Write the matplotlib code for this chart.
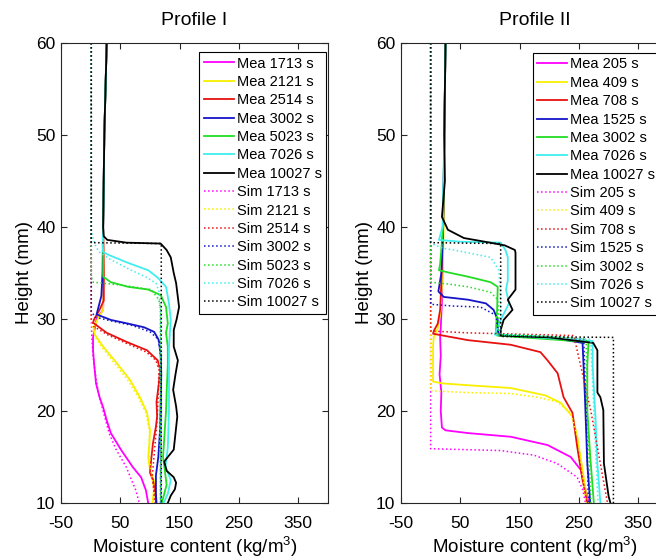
import matplotlib
matplotlib.use("Agg")
import matplotlib.pyplot as plt

plt.rcParams['font.family'] = ['Liberation Sans', 'DejaVu Sans']
plt.rcParams['mathtext.fontset'] = 'custom'
plt.rcParams['mathtext.rm'] = 'Liberation Sans'
plt.rcParams['axes.unicode_minus'] = False

# colours used for the 7 time steps (magenta, yellow, red, blue, green, cyan, black)
colors = ['#ff00ff', '#f8f000', '#e81010', '#1414c8', '#22dd22', '#40eeee', '#000000']

#Profile I data ----------------------------------------------------------
times1 = ['1713', '2121', '2514', '3002', '5023', '7026', '10027']

# measured, height (mm) / moisture (kg/m3)
m1_1713_h = [60, 50, 40, 35, 31, 30, 28, 26.6, 25, 23, 21.5, 20.4, 19, 17.6, 15.8, 13.9, 12.8, 11.4, 10]
m1_1713_w = [27, 23, 21, 22, 21, 10, 4, 4, 6, 9, 15, 21, 27, 34, 51, 71, 85, 93, 97]
m1_2121_h = [60, 50, 40, 35, 31, 30, 29, 28.3, 27, 25.2, 23.4, 21.5, 19.8, 17.9, 16.5, 15, 13.6, 12.2, 11, 10]
m1_2121_w = [27, 23, 21, 22, 21, 12, 5, 7, 21, 44, 66, 83, 95, 100, 99, 97, 100, 108, 106, 104]
m1_2514_h = [60, 50, 40, 35, 32, 31, 30, 29.6, 28.5, 27.5, 26.6, 25.5, 24.5, 23, 21, 19.4, 18.3, 16.5, 14.7, 13.3, 12.5, 11, 10]
m1_2514_w = [27, 23, 21, 22, 22, 15, 6, 4, 27, 61, 95, 113, 117, 115, 111, 112, 110, 105, 102, 100, 105, 109, 110]
m1_3002_h = [60, 50, 40, 35, 32.5, 31.5, 30.5, 29.9, 29.5, 29.1, 28.6, 27.7, 26, 24, 21, 18, 15, 13, 11, 10]
m1_3002_w = [27, 23, 21, 20, 18, 14, 10, 34, 63, 90, 107, 115, 118, 119, 118, 117, 114, 110, 110, 111]
m1_5023_h = [60, 50, 40, 36, 34.6, 34, 33.5, 33.2, 32.6, 31.3, 29.5, 28.5, 27, 25, 22, 20, 17, 15, 13, 12, 11, 10]
m1_5023_w = [27, 23, 21, 21, 21, 34, 63, 97, 118, 127, 130, 127, 130, 130, 128, 127, 124, 122, 126, 128, 124, 120]
m1_7026_h = [60, 50, 40, 38, 37.3, 37, 36.1, 35.3, 34.5, 33.5, 31.7, 29.9, 27, 24, 20, 16, 14, 12.5, 11, 10]
m1_7026_w = [27, 23, 21, 20, 21, 29, 63, 97, 113, 127, 132, 135, 132, 132, 132, 130, 126, 135, 130, 123]
m1_10027_h = [60, 50, 40, 39, 38.6, 38.3, 38.2, 37.5, 36.7, 35, 33.9, 31.3, 30, 28.8, 27, 25.5, 24, 22.3, 20.5, 19.4,
              17, 15.8, 15, 14.5, 13.5, 12.8, 12.2, 11.5, 10.8, 10]
m1_10027_w = [27, 23, 21, 22, 28, 60, 118, 128, 135, 140, 144, 149, 145, 140, 140, 147, 143, 139, 144, 146,
              142, 140, 130, 124, 128, 140, 144, 142, 135, 130]

# simulated
s1_1713_h = [60, 30, 28, 26, 24, 22, 20, 17.6, 15.8, 13.9, 11.4, 10]
s1_1713_w = [1, 1, 2, 4, 8, 13, 21, 31, 43, 60, 76, 82]
s1_2121_h = [60, 30, 29, 28, 27, 25.2, 23.4, 21.5, 19.8, 17.9, 15, 13, 11, 10]
s1_2121_w = [1, 1, 3, 8, 18, 40, 62, 80, 93, 99, 99, 103, 107, 105]
s1_2514_h = [60, 30, 29.2, 28.3, 27.3, 26.4, 25.5, 24.5, 22, 19, 16, 13, 10]
s1_2514_w = [1, 1, 5, 28, 62, 94, 110, 115, 114, 112, 108, 104, 108]
s1_3002_h = [60, 30.8, 30.2, 29.8, 29.3, 28.6, 27.8, 26, 10]
s1_3002_w = [1, 1, 8, 34, 70, 100, 114, 118, 118]
s1_5023_h = [60, 34.6, 34.0, 33.7, 33.2, 32.1, 31, 10]
s1_5023_w = [1, 1, 4, 50, 102, 115, 118, 118]
s1_7026_h = [60, 39.5, 38.8, 38, 37.3, 36.6, 35.5, 34.5, 33.9, 33, 31, 10]
s1_7026_w = [1, 1, 4, 8, 14, 30, 62, 95, 110, 115, 117, 117]
s1_10027_h = [60, 38.3, 38.2, 10]
s1_10027_w = [1, 1, 119, 119]

#Profile II data ---------------------------------------------------------
times2 = ['205', '409', '708', '1525', '3002', '7026', '10027']

m2_205_h = [60, 50, 40, 36, 32, 29, 28, 26, 24, 22, 20, 18.2, 17.9, 17.6, 17.2, 16.3, 15, 13.6, 11.4, 10]
m2_205_w = [25, 23, 21, 20, 19, 17, 16, 17, 15, 18, 17, 19, 25, 63, 135, 197, 236, 253, 261, 267]
m2_409_h = [60, 50, 40, 35, 31, 29, 28, 27, 25, 23.2, 23, 22.8, 22.5, 21.7, 20.9, 19.4, 17.2, 13.6, 11, 10]
m2_409_w = [25, 23, 22, 20, 17, 12, 5, 4, 4, 4, 20, 63, 135, 193, 219, 239, 247, 256, 262, 265]
m2_708_h = [60, 50, 40, 34, 31, 29.5, 28.8, 28.4, 27.7, 27.2, 26.4, 25.5, 24.1, 21.5, 19.8, 16.1, 12.5, 10]
m2_708_w = [25, 23, 21, 18, 16, 12, 6, 4, 63, 135, 185, 197, 214, 224, 239, 247, 256, 264]
m2_1525_h = [60, 50, 40, 35, 33, 32.4, 32.1, 31.7, 31, 29.9, 28.8, 28.2, 28.0, 27.4, 21.5, 14.3, 10]
m2_1525_w = [25, 23, 21, 18, 13, 22, 63, 93, 106, 113, 113, 115, 200, 256, 260, 264, 269]
m2_3002_h = [60, 50, 40, 36, 35.3, 35, 34.6, 34, 33.5, 31, 28.8, 28.2, 27.8, 27.5, 25, 20, 15, 10]
m2_3002_w = [25, 23, 21, 16, 14, 34, 63, 101, 113, 112, 110, 112, 200, 266, 264, 264, 269, 275]
m2_7026_h = [60, 50, 40, 38.6, 38.4, 38.3, 37.5, 36.7, 34.2, 33.2, 31.7, 29.9, 29.1, 28.3, 28.0, 27.6, 25, 19, 14.3, 10]
m2_7026_w = [25, 23, 20, 14, 50, 118, 126, 130, 130, 127, 132, 118, 113, 108, 180, 273, 273, 278, 281, 286]
m2_10027_h = [60, 50, 45, 41.1, 39.7, 38.8, 38.3, 38.0, 37.5, 37.2, 33.2, 32.1, 31, 29.9, 28.8, 28.2, 28.0, 27.4,
              26.6, 22, 21.5, 20.1, 14.3, 10.7, 10]
m2_10027_w = [25, 23, 24, 19, 29, 56, 100, 125, 142, 143, 143, 130, 138, 123, 118, 118, 200, 274,
              281, 281, 286, 291, 292, 300, 303]

s2_205_h = [60, 15.9, 15.8, 15.7, 15.2, 14.3, 12.8, 11.5, 10]
s2_205_w = [0, 0, 60, 118, 174, 213, 247, 256, 261]
s2_409_h = [60, 22.2, 22.0, 21.9, 21.5, 21.0, 19.8, 17, 14, 10]
s2_409_w = [0, 0, 63, 135, 180, 213, 236, 248, 254, 262]
s2_708_h = [60, 28.7, 28.5, 28.3, 28.2, 27.7, 20, 10]
s2_708_w = [0, 0, 60, 180, 241, 243, 270, 298]
s2_1525_h = [60, 31.6, 31.4, 31.3, 30.4, 29, 28.3, 28.1, 27.8, 20, 10]
s2_1525_w = [0, 0, 40, 84, 110, 113, 114, 200, 258, 262, 266]
s2_3002_h = [60, 34.0, 33.8, 33.5, 32.9, 32.1, 30, 28.3, 28.1, 27.8, 20, 10]
s2_3002_w = [0, 0, 30, 63, 101, 113, 115, 115, 200, 262, 264, 270]
s2_7026_h = [60, 38.4, 38.1, 37.7, 37.5, 36.7, 35.3, 33, 30, 28.3, 28.1, 27.8, 20, 10]
s2_7026_w = [0, 0, 5, 20, 39, 101, 115, 117, 118, 118, 200, 270, 275, 282]
s2_10027_h = [60, 38.3, 38.2, 28.1, 28.0, 10]
s2_10027_w = [0, 0, 118, 118, 308, 308]

mea1 = [(m1_1713_w, m1_1713_h), (m1_2121_w, m1_2121_h), (m1_2514_w, m1_2514_h), (m1_3002_w, m1_3002_h),
        (m1_5023_w, m1_5023_h), (m1_7026_w, m1_7026_h), (m1_10027_w, m1_10027_h)]
sim1 = [(s1_1713_w, s1_1713_h), (s1_2121_w, s1_2121_h), (s1_2514_w, s1_2514_h), (s1_3002_w, s1_3002_h),
        (s1_5023_w, s1_5023_h), (s1_7026_w, s1_7026_h), (s1_10027_w, s1_10027_h)]
mea2 = [(m2_205_w, m2_205_h), (m2_409_w, m2_409_h), (m2_708_w, m2_708_h), (m2_1525_w, m2_1525_h),
        (m2_3002_w, m2_3002_h), (m2_7026_w, m2_7026_h), (m2_10027_w, m2_10027_h)]
sim2 = [(s2_205_w, s2_205_h), (s2_409_w, s2_409_h), (s2_708_w, s2_708_h), (s2_1525_w, s2_1525_h),
        (s2_3002_w, s2_3002_h), (s2_7026_w, s2_7026_h), (s2_10027_w, s2_10027_h)]

fig = plt.figure(figsize=(6.56, 5.6), dpi=100)
ax1 = fig.add_axes([61 / 656, 57 / 560, 267 / 656, 460 / 560])
ax2 = fig.add_axes([401 / 656, 57 / 560, 267 / 656, 460 / 560])

gray = '#262626'
panels = [(ax1, 'Profile I', times1, mea1, sim1, 'upper right', (0.9925, 0.98)),
          (ax2, 'Profile II', times2, mea2, sim2, 'upper left', (0.494, 0.978))]

for ax, title, times, mea, sim, loc, anchor in panels:
    for i in range(len(times)):
        ax.plot(mea[i][0], mea[i][1], color=colors[i], lw=1.3, label='Mea ' + times[i] + ' s')
    for i in range(len(times)):
        ax.plot(sim[i][0], sim[i][1], color=colors[i], lw=1.1, ls=':', label='Sim ' + times[i] + ' s')

    ax.set_xlim(-50, 400)
    ax.set_ylim(10, 60)
    ax.set_xticks([-50, 50, 150, 250, 350])
    ax.set_yticks([10, 20, 30, 40, 50, 60])
    ax.tick_params(direction='in', top=True, right=True, length=4, width=0.8,
                   labelsize=12.5, colors=gray, labelcolor='black')
    ax.tick_params(axis='x', pad=9)
    ax.tick_params(axis='y', pad=4)
    for s in ax.spines.values():
        s.set_color(gray)
        s.set_linewidth(0.8)
    ax.set_title(title, fontsize=14, pad=13)
    ax.set_xlabel(r'Moisture content (kg/m$^3$)', fontsize=13.5, labelpad=3)
    ax.set_ylabel('Height (mm)', fontsize=13.5, labelpad=2)

    leg = ax.legend(loc=loc, bbox_to_anchor=anchor, borderaxespad=0, fontsize=10.5,
                    labelspacing=0.3, handlelength=2.05, handletextpad=0.2, borderpad=0.3,
                    fancybox=False, framealpha=1)
    leg.get_frame().set_edgecolor('black')
    leg.get_frame().set_linewidth(0.8)

plt.savefig('out.png', dpi=100)
